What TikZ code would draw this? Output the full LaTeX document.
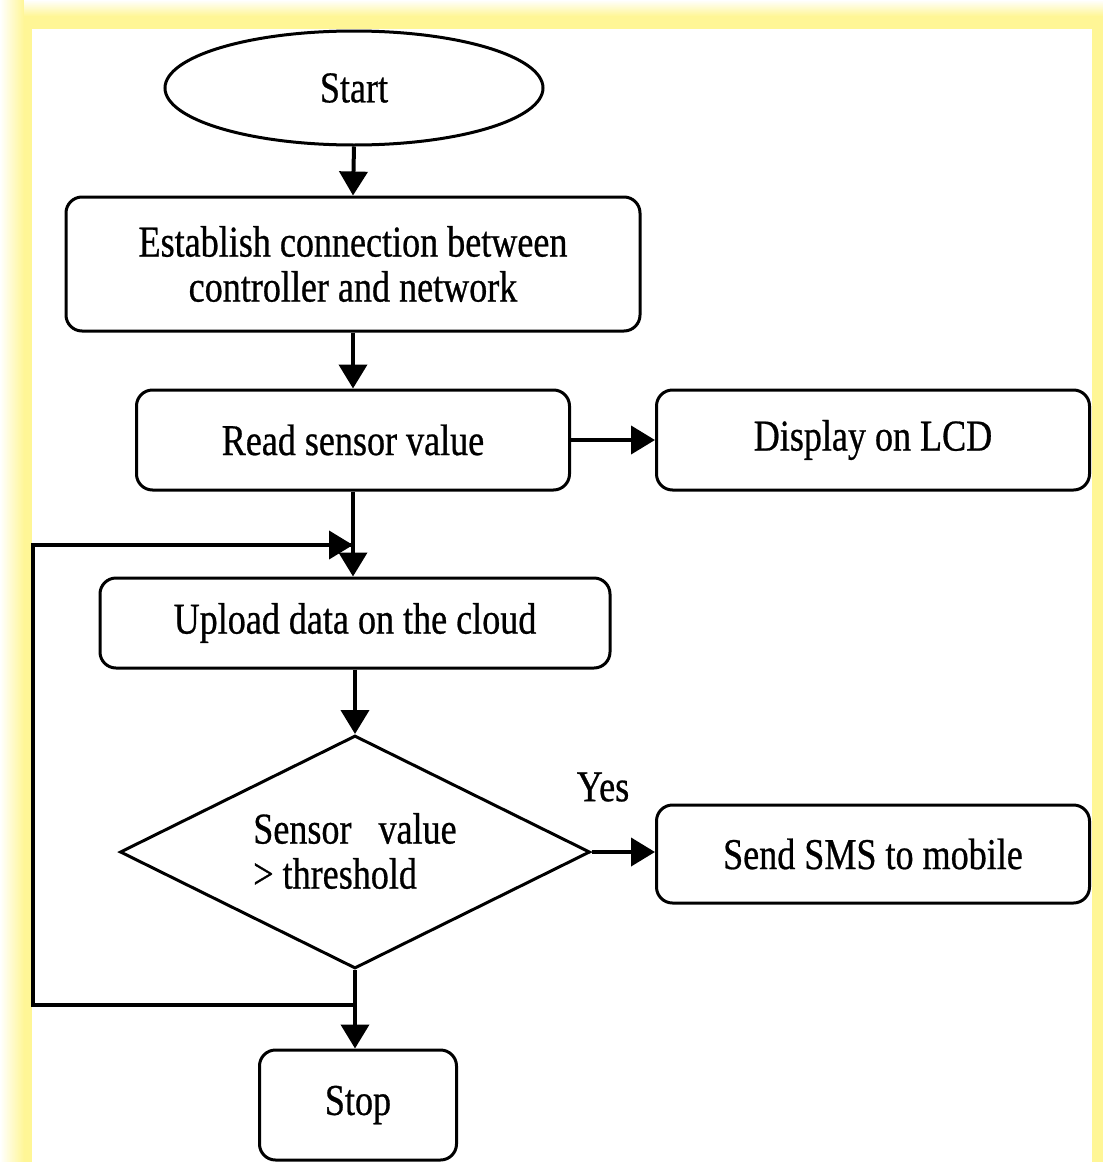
\documentclass[tikz,border=0pt]{standalone}
\usepackage{fontspec}
\setmainfont{Liberation Serif}[FakeStretch=0.82,FakeBold=0.6]
\usetikzlibrary{arrows.meta,shapes.geometric}
\definecolor{frameyellow}{RGB}{255,246,150}
\begin{document}
\begin{tikzpicture}[x=1pt,y=-1pt,
  txt/.style={font=\fontsize{44}{45}\selectfont},
  box/.style={draw,line width=3pt,rounded corners=16pt,inner sep=0pt,align=center,txt},
  conn/.style={line width=4pt,-{Triangle[length=24pt,width=28pt]}},
  plain/.style={line width=4pt}]
\fill[frameyellow] (0,0) rectangle (1103,1162);
\shade[left color=white,right color=frameyellow] (0,0) rectangle (24,1162);
\shade[top color=white,bottom color=frameyellow] (24,0) rectangle (1103,16);
\fill[white] (32,29) rectangle (1092,1162);
\useasboundingbox (0,0) rectangle (1103,1162);
\node[draw,ellipse,line width=3pt,minimum width=378pt,minimum height=114pt,txt] (start) at (354,88) {Start};
\node[box,minimum width=574pt,minimum height=134pt] (est) at (353,264) {Establish connection between\\controller and network};
\node[box,minimum width=433pt,minimum height=100pt] (read) at (353,440) {Read sensor value};
\node[box,minimum width=433pt,minimum height=100pt] (lcd) at (873,440) {Display on LCD};
\node[box,minimum width=510pt,minimum height=90pt] (up) at (355,623) {Upload data on the cloud};
\node[draw,diamond,line width=3pt,aspect=2.02,minimum width=470pt,minimum height=233pt,inner sep=0pt] (dec) at (355,852) {};
\node[align=left,txt] (dect) at (355,851) {Sensor\ \ \ value\\> threshold};
\node[box,minimum width=433pt,minimum height=98pt] (sms) at (873,854) {Send SMS to mobile};
\node[box,minimum width=197pt,minimum height=110pt] (stop) at (358,1105) {Stop};
\node[txt] (yes) at (603,787) {Yes};
\coordinate (loopA) at (357,1005);
\coordinate (loopB) at (33,1005);
\coordinate (loopC) at (33,545);
\coordinate (loopD) at (353,545);
\draw[conn] (start.south) -- (est.north);
\draw[conn] (est.south) -- (read.north);
\draw[conn] (read.east) -- (lcd.west);
\draw[conn] (read.south) -- (up.north -| read.south);
\draw[conn] (up.south -| dec.north) -- (dec.north);
\draw[conn] (dec.east) -- (sms.west |- dec.east);
\draw[conn] (dec.south) -- (stop.north -| dec.south);
\draw[plain] (loopA) -- (loopB) -- (loopC) -- (loopD);
\draw[conn] (loopC) -- (loopD);
\end{tikzpicture}
\end{document}
